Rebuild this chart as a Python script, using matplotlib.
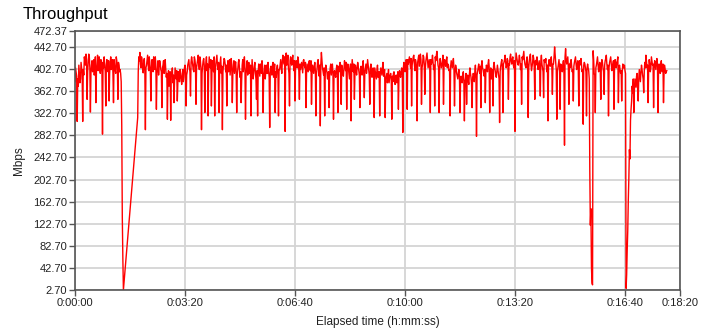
import matplotlib
matplotlib.use("Agg")
import matplotlib.pyplot as plt
import numpy as np

# ---- data (Mbps) ----
# main samples every 2 s, plus in-between samples (odd seconds)
sample_step = 2
seg_a_start = 0      # seconds
seg_a_values = [
    380, 398, 308, 372, 395, 385, 404, 308, 392, 418,
    430, 348, 415, 426, 325, 410, 398, 420, 405, 342,
    412, 400, 425, 395, 418, 285, 405, 412, 336, 420,
    398, 345, 415, 402, 420, 342, 408, 395, 418, 348,
    410, 402, 380, 135, 2.7,
]
seg_a_mid = [
    405, 390, 385, 410, 378, 415, 395, 402, 425, 410,
    420, 398, 430, 405, 395, 418, 408, 392, 425, 400,
    428, 410, 405, 420, 395, 415, 425, 398, 410, 402,
    418, 395, 425, 410, 395, 420, 402, 425, 405, 415,
    398, 395, 300, 60,
]
seg_b_start = 114    # seconds
seg_b_values = [
    315, 425, 433, 405, 418, 396, 422, 293, 410, 428, 400, 415, 345, 420, 398, 412, 425, 330, 405, 392,
    418, 402, 333, 410, 395, 420, 388, 312, 400, 382, 310, 395, 378, 342, 405, 385, 345, 398, 380, 392,
    375, 402, 388, 410, 336, 398, 415, 405, 354, 425, 410, 398, 420, 339, 412, 428, 402, 418, 293, 408,
    422, 324, 415, 400, 318, 425, 405, 336, 418, 398, 318, 412, 428, 402, 324, 415, 395, 293, 410, 420,
    398, 336, 418, 405, 392, 422, 342, 408, 395, 416, 324, 402, 420, 388, 342, 410, 398, 425, 312, 405,
    392, 415, 400, 318, 420, 385, 408, 396, 348, 318, 412, 390, 405, 418, 324, 398, 385, 410, 395, 402,
    297, 408, 392, 415, 400, 324, 388, 410, 318, 402, 420, 395, 428, 412, 290, 432, 415, 405, 336, 425,
    410, 428, 400, 345, 418, 405, 422, 348, 402, 415, 396, 420, 405, 333, 412, 398, 418, 400, 339, 410,
    395, 415, 318, 402, 420, 390, 300, 433, 405, 392, 318, 410, 398, 385, 333, 405, 392, 412, 312, 400,
    388, 410, 324, 398, 415, 339, 402, 390, 418, 400, 330, 412, 395, 405, 309, 420, 398, 348, 410, 392,
    415, 400, 333, 408, 392, 418, 351, 405, 395, 420, 402, 339, 412, 388, 405, 315, 398, 385, 410, 395,
    318, 405, 392, 415, 398, 315, 390, 378, 402, 385, 395, 312, 380, 398, 375, 392, 385, 330, 400, 388,
    405, 288, 415, 398, 420, 330, 412, 425, 405, 336, 418, 428, 400, 415, 309, 422, 408, 430, 339, 412,
    425, 357, 418, 432, 405, 420, 324, 412, 428, 402, 336, 418, 435, 410, 324, 422, 405, 415, 339, 420,
    408, 425, 412, 400, 318, 418, 405, 422, 336, 410, 395, 385, 402, 324, 390, 378, 398, 309, 385, 339,
    392, 375, 405, 388, 333, 395, 380, 410, 281, 398, 412, 395, 333, 418, 402, 390, 342, 410, 398, 420,
    324, 405, 392, 336, 415, 400, 388, 410, 395, 306, 408, 420, 324, 415, 428, 405, 422, 348, 410, 430,
    412, 425, 405, 290, 432, 418, 410, 428, 402, 339, 420, 435, 412, 405, 425, 315, 418, 430, 400, 415,
    422, 348, 410, 425, 402, 418, 354, 428, 405, 351, 415, 422, 398, 309, 420, 408, 425, 357, 412, 443,
    415, 312, 405, 420, 330, 410, 398, 418, 265, 440, 412, 425, 339, 405, 420, 398, 345, 415, 425, 402,
    418, 336, 410, 422, 398, 303, 415, 405, 318, 412, 400, 218, 150, 15, 436, 395, 324, 410, 425, 398,
    415, 348, 420, 405, 357, 418, 428, 402, 318, 415, 425, 400, 412, 330, 420, 405, 418, 342, 410, 395,
    345, 412, 405, 400, 5.7, 75, 166, 257, 310, 345, 360, 324, 385, 370, 395, 345, 402, 380, 410, 392,
    360, 415, 428, 405, 342, 420, 398, 425, 410, 333, 418, 402, 422, 324, 412, 395, 418, 405, 342, 410,
    395, 400,
]
seg_b_mid = [
    398, 418, 412, 425, 402, 415, 398, 405, 420, 410, 425, 398, 405, 415, 425, 402, 410, 395, 418, 408,
    412, 398, 405, 418, 410, 402, 395, 385, 372, 398, 388, 405, 392, 380, 395, 400, 378, 390, 402, 385,
    395, 380, 405, 398, 392, 410, 420, 398, 415, 418, 402, 425, 410, 405, 420, 412, 425, 405, 395, 418,
    410, 398, 425, 412, 402, 415, 420, 398, 410, 425, 395, 420, 410, 415, 405, 425, 408, 398, 422, 412,
    410, 405, 398, 420, 408, 412, 395, 418, 405, 400, 392, 415, 405, 398, 382, 420, 412, 405, 395, 418,
    405, 395, 410, 392, 402, 398, 415, 385, 400, 395, 402, 412, 395, 408, 390, 410, 402, 395, 415, 388,
    395, 402, 410, 388, 412, 398, 405, 395, 402, 412, 405, 418, 420, 425, 420, 410, 428, 395, 418, 415,
    422, 412, 418, 405, 410, 425, 398, 412, 408, 405, 418, 410, 415, 395, 405, 412, 402, 418, 395, 402,
    408, 400, 395, 415, 405, 410, 412, 418, 398, 405, 395, 402, 385, 398, 392, 412, 402, 395, 398, 392,
    402, 395, 408, 405, 392, 410, 398, 405, 410, 415, 402, 405, 385, 412, 402, 408, 412, 395, 400, 405,
    408, 392, 402, 398, 410, 395, 398, 412, 405, 410, 392, 405, 398, 392, 390, 405, 392, 402, 388, 398,
    395, 398, 405, 390, 402, 385, 395, 388, 378, 392, 385, 390, 395, 382, 390, 378, 398, 388, 392, 398,
    398, 405, 410, 412, 418, 420, 418, 415, 422, 410, 425, 412, 420, 405, 415, 428, 418, 420, 405, 428,
    412, 405, 425, 418, 412, 405, 420, 418, 415, 410, 425, 428, 422, 405, 412, 415, 410, 428, 408, 415,
    418, 405, 410, 402, 408, 412, 415, 405, 395, 405, 390, 395, 388, 378, 385, 392, 382, 380, 395, 385,
    382, 392, 395, 375, 388, 392, 398, 388, 392, 405, 402, 408, 410, 405, 395, 402, 398, 405, 412, 408,
    398, 385, 402, 408, 405, 392, 400, 402, 385, 398, 415, 405, 412, 420, 415, 410, 418, 412, 425, 418,
    420, 410, 418, 412, 425, 412, 420, 418, 412, 425, 428, 420, 408, 418, 410, 405, 425, 412, 408, 428,
    405, 418, 420, 412, 410, 402, 418, 412, 398, 420, 415, 408, 410, 412, 415, 418, 405, 412, 425, 428,
    402, 398, 412, 405, 412, 405, 410, 395, 425, 420, 418, 405, 412, 415, 410, 402, 408, 420, 412, 410,
    405, 418, 415, 410, 402, 410, 412, 398, 405, 405, 385, 120, 45, 12, 420, 392, 405, 418, 410, 405,
    402, 412, 415, 398, 410, 422, 412, 410, 405, 420, 412, 405, 418, 410, 412, 415, 425, 402, 403, 400,
    398, 405, 410, 395, 30, 110, 205, 240, 330, 372, 385, 362, 378, 390, 365, 385, 392, 398, 402, 385,
    398, 405, 418, 410, 402, 412, 405, 418, 412, 408, 410, 415, 412, 405, 402, 410, 398, 412, 395, 402,
    398,
]

y_ticks = [2.70, 42.70, 82.70, 122.70, 162.70, 202.70, 242.70, 282.70,
           322.70, 362.70, 402.70, 442.70, 472.37]
x_tick_seconds = [0, 200, 400, 600, 800, 1000, 1100]
x_tick_labels = ["0:00:00", "0:03:20", "0:06:40", "0:10:00", "0:13:20", "0:16:40", "0:18:20"]


# ---- build series (merge main + in-between samples per segment) ----
def build(start, main, mid):
    main = np.asarray(main, float)
    mid = np.asarray(mid, float)
    tm = start + sample_step * np.arange(len(main))
    n = min(len(mid), len(main) - 1)
    tmid = tm[:n] + sample_step / 2
    t = np.concatenate([tm, tmid])
    v = np.concatenate([main, mid[:n]])
    order = np.argsort(t, kind='stable')
    return t[order], v[order]


ta, va = build(seg_a_start, seg_a_values, seg_a_mid)
tb, vb = build(seg_b_start, seg_b_values, seg_b_mid)
t = np.concatenate([ta, tb])
v = np.concatenate([va, vb])

plt.rcParams['font.family'] = ['Liberation Sans', 'DejaVu Sans']

fig = plt.figure(figsize=(7.28, 3.30), dpi=100)
ax = fig.add_axes([75/728, 1 - 290/330, (680 - 75)/728, (290 - 30.7)/330])

ax.plot(t, v, color='#ff0000', linewidth=1.0, antialiased=True)

ax.set_xlim(0, 1100)
ax.set_ylim(2.70, 472.37)
ax.set_yticks(y_ticks)
ax.set_yticklabels([f"{y:.2f}" for y in y_ticks])
ax.set_xticks(x_tick_seconds)
ax.set_xticklabels(x_tick_labels)

ax.grid(True, color='#d4d4d4', linewidth=1.3)
ax.set_axisbelow(True)
for s in ax.spines.values():
    s.set_color('#555555')
    s.set_linewidth(1.2)
ax.tick_params(axis='both', direction='out', length=4, width=1, color='#555555',
               labelsize=8, labelcolor='#222222', pad=1.5)

ax.set_ylabel("Mbps", fontsize=8.5, color='#222222', labelpad=6)
ax.set_xlabel("Elapsed time (h:mm:ss)", fontsize=8.5, color='#222222', labelpad=6)

fig.text(23/728, 1 - 14/330, "Throughput", fontsize=12, color='#000000',
         ha='left', va='center')

fig.savefig("out.png", dpi=100)
